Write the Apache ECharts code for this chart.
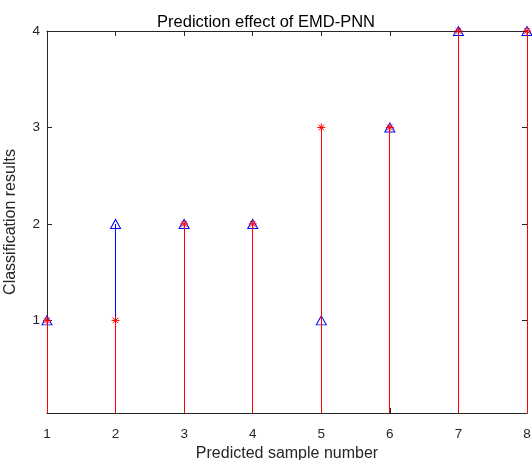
<!DOCTYPE html>
<html>
<head>
<meta charset="utf-8">
<script src="https://cdn.jsdelivr.net/npm/echarts@6/dist/echarts.min.js"></script>
<style>html,body{margin:0;padding:0;background:#fff}#c{width:532px;height:460px}</style>
</head>
<body>
<div id="c"></div>
<script>
const samples = [1, 2, 3, 4, 5, 6, 7, 8];
const actual = [1, 1, 2, 2, 3, 3, 4, 4];      // red asterisks
const predicted = [1, 2, 2, 2, 1, 3, 4, 4];   // blue triangles
const yTicks = [1, 2, 3, 4];
const Y_MIN = 0.04, Y_MAX = 4;

const FONT = 'Liberation Sans';
const AX = '#262626';

function stem(color) {
  return function (params, api) {
    const x = api.value(0), y = api.value(1);
    const top = api.coord([x, y]);
    const bot = api.coord([x, Y_MIN]);
    const px = Math.floor(top[0]) + 0.5;
    return { type: 'line', shape: { x1: px, y1: top[1], x2: px, y2: bot[1] },
      style: { stroke: color, lineWidth: 1 } };
  };
}

const asterisk = 'path://M0,-1L0,1M-1,0L1,0M-0.707,-0.707L0.707,0.707M-0.707,0.707L0.707,-0.707';

const chart = echarts.init(document.getElementById('c'));
chart.setOption({
  animation: false,
  backgroundColor: '#fff',
  title: { text: 'Prediction effect of EMD-PNN', left: 'center', top: 9,
    textStyle: { fontFamily: FONT, fontSize: 16.5, fontWeight: 'normal', color: '#000' } },
  grid: { left: 47, right: 5, top: 31, bottom: 47, outerBoundsMode: 'none', containLabel: false },
  xAxis: [
    { type: 'value', min: 1, max: 8, interval: 1, position: 'bottom',
      name: 'Predicted sample number', nameLocation: 'middle', nameGap: 31,
      nameTextStyle: { fontFamily: FONT, fontSize: 16, color: AX },
      axisLine: { show: true, lineStyle: { color: AX, width: 1 } },
      axisTick: { show: true, inside: true, length: 5, lineStyle: { color: AX } },
      axisLabel: { margin: 14, fontFamily: FONT, fontSize: 13.5, color: AX },
      splitLine: { show: false } },
    { type: 'value', min: 1, max: 8, interval: 1, position: 'top',
      axisLine: { show: true, lineStyle: { color: AX, width: 1 } },
      axisTick: { show: true, inside: true, length: 5, lineStyle: { color: AX } },
      axisLabel: { show: false }, splitLine: { show: false } }
  ],
  yAxis: [
    { type: 'value', min: Y_MIN, max: Y_MAX, position: 'left',
      name: 'Classification results', nameLocation: 'middle', nameGap: 28,
      nameTextStyle: { fontFamily: FONT, fontSize: 16, color: AX },
      axisLine: { show: true, lineStyle: { color: AX, width: 1 } },
      axisTick: { show: true, inside: true, length: 5, customValues: yTicks, lineStyle: { color: AX } },
      axisLabel: { margin: 7, fontFamily: FONT, fontSize: 13.5, color: AX, customValues: yTicks },
      splitLine: { show: false } },
    { type: 'value', min: Y_MIN, max: Y_MAX, position: 'right',
      axisLine: { show: true, lineStyle: { color: AX, width: 1 } },
      axisTick: { show: true, inside: true, length: 5, customValues: yTicks, lineStyle: { color: AX } },
      axisLabel: { show: false }, splitLine: { show: false } }
  ],
  series: [
    { type: 'custom', zlevel: 1, z: 2, clip: false, renderItem: stem('#0000ff'),
      data: samples.map((s, i) => [s, predicted[i]]) },
    { type: 'scatter', zlevel: 1, z: 3, symbol: 'triangle', symbolSize: [10, 9],
      itemStyle: { color: 'rgba(0,0,0,0)', borderColor: '#0000ff', borderWidth: 1, opacity: 1 },
      data: samples.map((s, i) => [s, predicted[i]]) },
    { type: 'custom', zlevel: 1, z: 4, clip: false, renderItem: stem('#ff0000'),
      data: samples.map((s, i) => [s, actual[i]]) },
    { type: 'scatter', zlevel: 1, z: 5, symbol: asterisk, symbolSize: 8,
      itemStyle: { color: 'rgba(0,0,0,0)', borderColor: '#ff0000', borderWidth: 1, opacity: 1 },
      data: samples.map((s, i) => [s, actual[i]]) }
  ]
});
</script>
</body>
</html>
